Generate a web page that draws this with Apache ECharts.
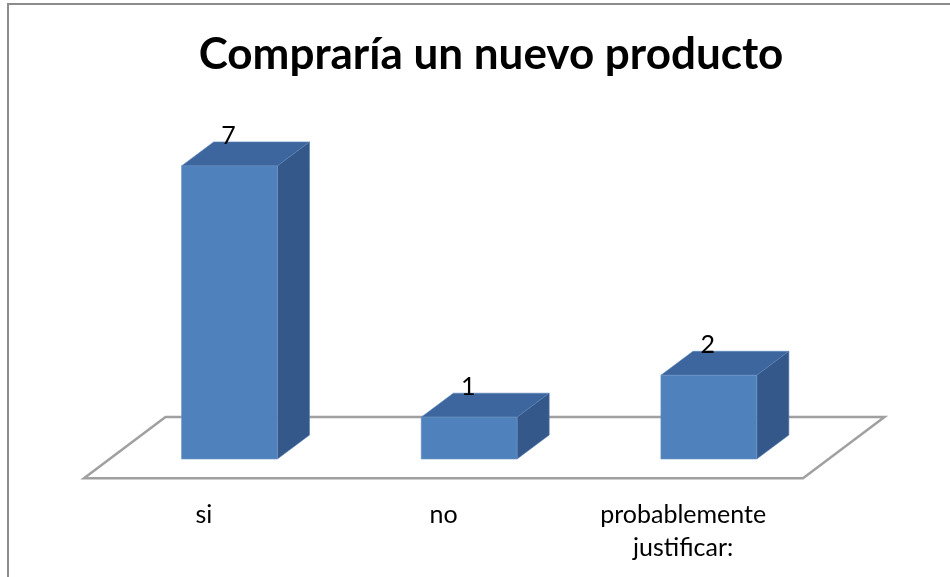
<!DOCTYPE html>
<html>
<head>
<meta charset="utf-8">
<script src="https://cdn.jsdelivr.net/npm/echarts@6/dist/echarts.min.js"></script>
<style>html,body{margin:0;padding:0;background:#fff;}#c{width:950px;height:577px;}</style>
</head>
<body>
<div id="c"></div>
<script>
var categories = ['si', 'no', 'probablemente\njustificar:'];
var values = [7, 1, 2];
var titleText = 'Compraría un nuevo producto';

var chart = echarts.init(document.getElementById('c'));

var FRONT = '#4F81BD', TOP = '#3C669D', SIDE = '#34588A';

function barItem(params, api) {
  var idx = api.value(0), v = api.value(1);
  var base = api.coord([idx, 0]);
  var topP = api.coord([idx, v]);
  var bw = api.size([1, 0])[0];
  var w = bw * 0.4;
  var shift = bw * 0.107;           // bar sits mid-depth on floor
  var dx = bw * 0.134, dy = -bw * 0.1; // bar depth
  var x1 = base[0] - w / 2 + shift, x2 = x1 + w;
  var yb = base[1], yt = topP[1];
  return {
    type: 'group',
    children: [
      { type: 'polygon', shape: { points: [[x1, yt], [x2, yt], [x2 + dx, yt + dy], [x1 + dx, yt + dy]] },
        style: { fill: TOP, stroke: '#5a86bb', lineWidth: 0.6 } },
      { type: 'polygon', shape: { points: [[x2, yt], [x2 + dx, yt + dy], [x2 + dx, yb + dy], [x2, yb]] },
        style: { fill: SIDE, stroke: '#5a7fae', lineWidth: 0.6 } },
      { type: 'rect', shape: { x: x1, y: yt, width: w, height: yb - yt },
        style: { fill: FRONT, stroke: '#6f95c6', lineWidth: 0.6 } },
      { type: 'text', style: { text: String(v), x: base[0] + shift - 1, y: yt + dy - 6,
        fill: '#000', font: '25px Lato, Carlito, sans-serif', align: 'center', verticalAlign: 'middle' } }
    ]
  };
}

function floorItem(params, api) {
  var n = categories.length;
  var a = api.coord([0, 0]);
  var b = api.coord([n - 1, 0]);
  var bw = api.size([1, 0])[0];
  var xl = a[0] - bw / 2, xr = b[0] + bw / 2;
  var yf = a[1] + bw * 0.08, yk = a[1] - bw * 0.175;
  var dx = bw * 0.34;
  return {
    type: 'polygon',
    shape: { points: [[xl, yf], [xr, yf], [xr + dx, yk], [xl + dx, yk]] },
    style: { fill: 'none', stroke: '#a0a0a0', lineWidth: 2.5 },
    z2: 0
  };
}

chart.setOption({
  animation: false,
  backgroundColor: '#fff',
  title: {
    text: titleText,
    left: 486, top: 28, textAlign: 'center',
    textStyle: { fontFamily: 'Lato, Carlito, sans-serif', fontWeight: 'bold', fontSize: 44, color: '#000' }
  },
  graphic: [
    { type: 'rect', shape: { x: 8, y: 4, width: 1200, height: 1200 },
      style: { fill: 'none', stroke: '#8c8c8c', lineWidth: 2 }, silent: true }
  ],
  grid: { left: 84, top: 124, width: 719, height: 335, containLabel: false },
  xAxis: {
    type: 'category', data: categories,
    axisLine: { show: false }, axisTick: { show: false },
    axisLabel: { margin: 39, fontFamily: 'Lato, Carlito, sans-serif', fontSize: 25, color: '#000', lineHeight: 33 }
  },
  yAxis: { type: 'value', min: 0, max: 8, show: false, splitLine: { show: false } },
  series: [
    { type: 'custom', renderItem: floorItem, data: [[0, 0]], z: 1, silent: true },
    { type: 'custom', renderItem: barItem, data: values.map(function (v, i) { return [i, v]; }), z: 2 }
  ]
});
</script>
</body>
</html>
